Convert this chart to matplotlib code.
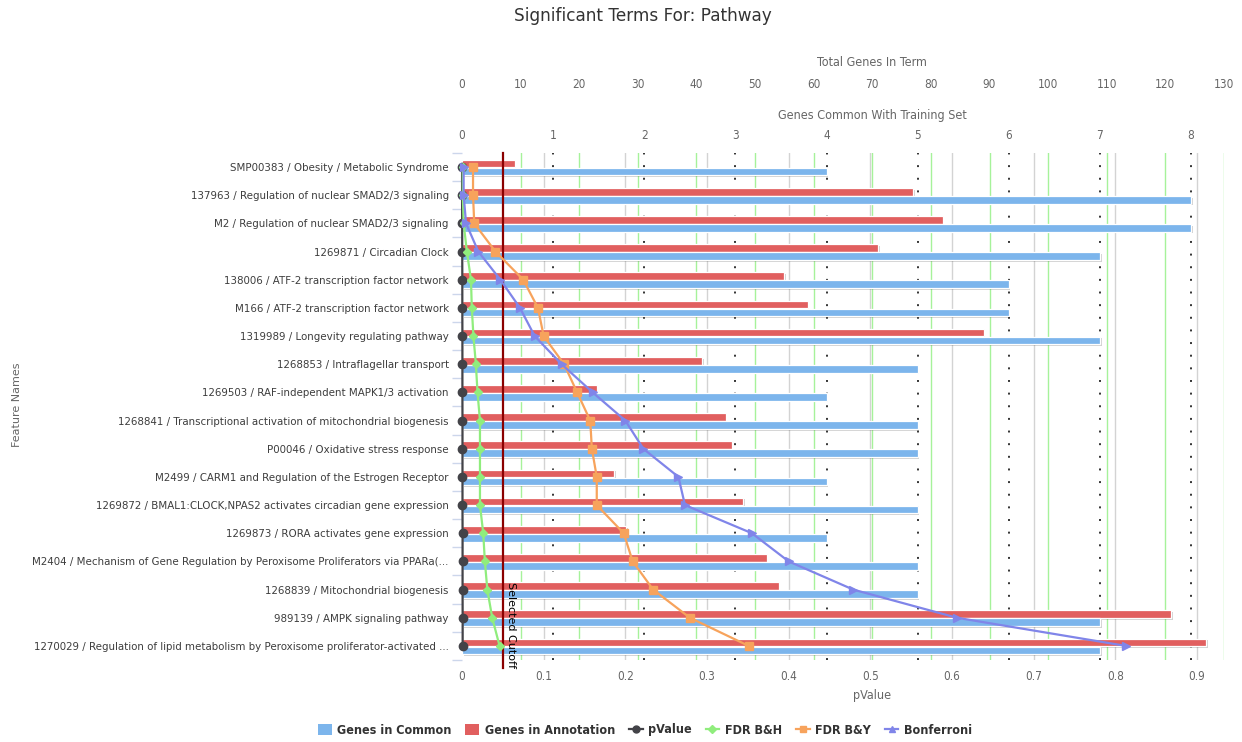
import matplotlib
matplotlib.use("Agg")
import matplotlib.pyplot as plt
import matplotlib.patheffects as pe
from matplotlib.lines import Line2D
from matplotlib.patches import Patch
from matplotlib.font_manager import FontProperties
from matplotlib.transforms import blended_transform_factory as blend
import numpy as np

categories = [
    "SMP00383 / Obesity / Metabolic Syndrome",
    "137963 / Regulation of nuclear SMAD2/3 signaling",
    "M2 / Regulation of nuclear SMAD2/3 signaling",
    "1269871 / Circadian Clock",
    "138006 / ATF-2 transcription factor network",
    "M166 / ATF-2 transcription factor network",
    "1319989 / Longevity regulating pathway",
    "1268853 / Intraflagellar transport",
    "1269503 / RAF-independent MAPK1/3 activation",
    "1268841 / Transcriptional activation of mitochondrial biogenesis",
    "P00046 / Oxidative stress response",
    "M2499 / CARM1 and Regulation of the Estrogen Receptor",
    "1269872 / BMAL1:CLOCK,NPAS2 activates circadian gene expression",
    "1269873 / RORA activates gene expression",
    "M2404 / Mechanism of Gene Regulation by Peroxisome Proliferators via PPARa(...",
    "1268839 / Mitochondrial biogenesis",
    "989139 / AMPK signaling pathway",
    "1270029 / Regulation of lipid metabolism by Peroxisome proliferator-activated ...",
]
genes_in_common = [4, 8, 8, 7, 6, 6, 7, 5, 4, 5, 5, 4, 5, 4, 5, 5, 7, 7]
genes_in_annotation = [9, 77, 82, 71, 55, 59, 89, 41, 23, 45, 46, 26, 48, 28, 52, 54, 121, 127]
p_value = [0.0001, 0.0001, 0.0002, 0.0003, 0.0004, 0.0004, 0.0005, 0.0005, 0.0005,
           0.0006, 0.0006, 0.0006, 0.0006, 0.0007, 0.0007, 0.0007, 0.0008, 0.0008]
fdr_bh = [0.001, 0.001, 0.002, 0.006, 0.011, 0.012, 0.014, 0.017, 0.019,
          0.022, 0.022, 0.022, 0.022, 0.026, 0.028, 0.031, 0.037, 0.046]
fdr_by = [0.0135, 0.0135, 0.015, 0.041, 0.075, 0.093, 0.100, 0.125, 0.141,
          0.157, 0.159, 0.165, 0.165, 0.198, 0.209, 0.234, 0.279, 0.351]
bonferroni = [0.002, 0.002, 0.005, 0.020, 0.047, 0.071, 0.089, 0.122, 0.160,
              0.200, 0.222, 0.265, 0.273, 0.355, 0.400, 0.479, 0.606, 0.813]
cutoff = 0.05

total_ticks = list(range(0, 131, 10))
common_ticks = list(range(0, 9))
p_ticks = [0, 0.1, 0.2, 0.3, 0.4, 0.5, 0.6, 0.7, 0.8, 0.9]

BLUE = "#7cb5ec"
RED = "#e15f5f"
BLACK = "#434348"
GREEN = "#90ed7d"
ORANGE = "#f7a35c"
PURPLE = "#8085e9"


def narrow(size, weight="normal"):
    return FontProperties(family="DejaVu Sans", stretch="condensed", size=size, weight=weight)


W, H = 1242, 742
fig = plt.figure(figsize=(W / 100, H / 100), dpi=100)
L, R, T, B = 462, 1224, 153, 660
rect = [L / W, 1 - B / H, (R - L) / W, (B - T) / H]

n = len(categories)
y = np.arange(n)

ax_p = fig.add_axes(rect, zorder=1)
ax_tot = fig.add_axes(rect, zorder=2)
ax_com = fig.add_axes(rect, zorder=3)
ax_ln = fig.add_axes(rect, zorder=4)

for ax in (ax_p, ax_tot, ax_com, ax_ln):
    ax.set_ylim(n - 0.5, -0.5)
    for s in ax.spines.values():
        s.set_visible(False)
for ax in (ax_tot, ax_com, ax_ln):
    ax.set_facecolor("none")
    ax.set_yticks([])

ax_p.set_xlim(0, 0.933)
ax_ln.set_xlim(0, 0.933)
ax_tot.set_xlim(0, 130)
ax_com.set_xlim(0, 8.362)

# grid lines for the three value axes, all kept beneath the bars
for t in p_ticks[1:]:
    ax_p.axvline(t, color="#d3d3d3", lw=1.0, zorder=0)
for t in total_ticks[1:]:
    ax_p.add_line(Line2D([t, t], [0, 1], transform=blend(ax_tot.transData, ax_p.transAxes),
                         color="#a6f29a", lw=1.0, zorder=0.5))
for t in common_ticks[1:]:
    ax_p.add_line(Line2D([t, t], [0, 1], transform=blend(ax_com.transData, ax_p.transAxes),
                         color="#333333", lw=1.4, linestyle=(0, (1, 5.5)), zorder=0.6))

shadow = [pe.SimplePatchShadow(offset=(1.2, -1.2), shadow_rgbFace="#000000", alpha=0.18), pe.Normal()]
ax_tot.barh(y - 0.125, genes_in_annotation, height=0.27, color=RED, edgecolor="white",
            linewidth=0.9, path_effects=shadow)
ax_com.barh(y + 0.16, genes_in_common, height=0.27, color=BLUE, edgecolor="white",
            linewidth=0.9, path_effects=shadow)

# selected cutoff marker
ax_ln.add_line(Line2D([cutoff, cutoff], [1, -8 / (B - T)],
                      transform=blend(ax_ln.transData, ax_ln.transAxes),
                      color="#8b0000", lw=1.6, clip_on=False, zorder=2))
ax_ln.annotate("Selected Cutoff", xy=(cutoff, 0), xycoords=blend(ax_ln.transData, ax_ln.transAxes),
               xytext=(2, -6), textcoords="offset points", rotation=270, ha="left", va="bottom",
               fontsize=8, color="#000000", annotation_clip=False, zorder=6)

ax_ln.plot(p_value, y, color=BLACK, lw=1.6, marker="o", ms=6, zorder=3, clip_on=False)
ax_ln.plot(fdr_bh, y, color=GREEN, lw=1.6, marker="D", ms=4.2, zorder=4, clip_on=False)
ax_ln.plot(fdr_by, y, color=ORANGE, lw=1.6, marker="s", ms=5.5, zorder=5, clip_on=False)
ax_ln.plot(bonferroni, y, color=PURPLE, lw=1.6, marker=">", ms=6, zorder=6, clip_on=False)
ax_ln.set_xticks([])

# category axis
ax_p.set_yticks(y)
ax_p.set_yticklabels(categories, fontsize=7.4, color="#3d3d3d")
ax_p.set_yticks(np.arange(-0.5, n, 1.0), minor=True)
ax_p.tick_params(axis="y", which="major", length=0, pad=9.5)
ax_p.tick_params(axis="y", which="minor", length=7, width=1, color="#ccd6eb", direction="out")

# pValue axis
ax_p.set_xticks(p_ticks)
ax_p.set_xticklabels([f"{t:g}" for t in p_ticks], fontproperties=narrow(8.5), color="#666666")
ax_p.tick_params(axis="x", length=0, pad=7.5)

# Total Genes axis
ax_tot.xaxis.tick_top()
ax_tot.set_xticks(total_ticks)
ax_tot.set_xticklabels([str(t) for t in total_ticks], fontproperties=narrow(8.5), color="#666666")
ax_tot.tick_params(axis="x", length=0, pad=45)

# Genes Common axis
ax_com.xaxis.tick_top()
ax_com.set_xticks(common_ticks)
ax_com.set_xticklabels([str(t) for t in common_ticks], fontproperties=narrow(8.5), color="#666666")
ax_com.tick_params(axis="x", length=0, pad=8)

# titles
fig.text(643 / W, 1 - 16 / H, "Significant Terms For: Pathway", ha="center", va="center",
         fontsize=12.2, color="#333333")
fig.text(872 / W, 1 - 62 / H, "Total Genes In Term", ha="center", va="center",
         fontproperties=narrow(9), color="#666666")
fig.text(872 / W, 1 - 115 / H, "Genes Common With Training Set", ha="center", va="center",
         fontproperties=narrow(9), color="#666666")
fig.text(872 / W, 1 - 696 / H, "pValue", ha="center", va="center",
         fontproperties=narrow(9), color="#666666")
fig.text(17 / W, 1 - 405 / H, "Feature Names", ha="center", va="center", rotation=90,
         fontsize=8, color="#666666")

handles = [
    Patch(facecolor=BLUE, edgecolor="none"),
    Patch(facecolor=RED, edgecolor="none"),
    Line2D([], [], color=BLACK, lw=1.6, marker="o", ms=5),
    Line2D([], [], color=GREEN, lw=1.6, marker="D", ms=4),
    Line2D([], [], color=ORANGE, lw=1.6, marker="s", ms=5),
    Line2D([], [], color=PURPLE, lw=1.6, marker="^", ms=5),
]
labels = ["Genes in Common", "Genes in Annotation", "pValue", "FDR B&H", "FDR B&Y", "Bonferroni"]
leg = fig.legend(handles, labels, loc="center", bbox_to_anchor=(645 / W, 1 - 730 / H), ncol=6,
                 frameon=False, handlelength=1.1, handleheight=1.0, handletextpad=0.45,
                 columnspacing=1.1, prop=narrow(9, "bold"))
for txt in leg.get_texts():
    txt.set_color("#333333")

fig.savefig("out.png", dpi=100)
